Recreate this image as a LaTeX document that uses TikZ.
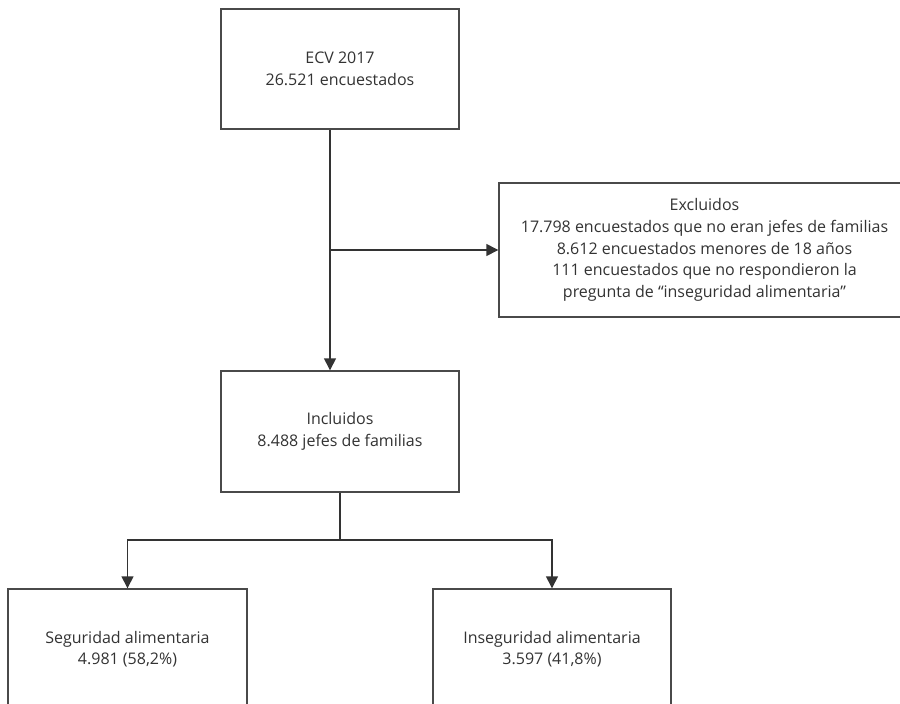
\documentclass[tikz,border=0pt]{standalone}
\usepackage{fontspec}
\setmainfont{Open Sans}
\usetikzlibrary{arrows.meta}
\definecolor{linec}{HTML}{333333}
\definecolor{boxc}{HTML}{4A4A4A}
\definecolor{textc}{HTML}{333333}
\begin{document}
\begin{tikzpicture}[x=1pt,y=-1pt,
  box/.style={draw=boxc, line width=1.4pt, rectangle, align=center, text=textc,
    font=\fontsize{16}{21.6}\selectfont, inner sep=0pt},
  conn/.style={draw=linec, line width=1.4pt},
  arr/.style={conn, -{Triangle[length=12pt,width=12pt]}}]
\useasboundingbox (0,0) rectangle (900,704);
\clip (0,0) rectangle (900,704);
\fill[white] (0,0) rectangle (900,704);
\node[box, minimum width=238pt, minimum height=120pt] (ecv) at (340,69) {ECV 2017\\26.521 encuestados};
\node[box, minimum width=420pt, minimum height=134pt] (exc) at (709,250) {};
\node[align=center, text=textc, font=\fontsize{16}{21.6}\selectfont, inner sep=0pt] (exct) at (704.5,250) {Excluidos\\17.798 encuestados que no eran jefes de familias\\8.612 encuestados menores de 18 años\\111 encuestados que no respondieron la\\pregunta de “inseguridad alimentaria”};
\node[box, minimum width=238pt, minimum height=121pt] (inc) at (340,431.5) {Incluidos\\8.488 jefes de familias};
\node[box, minimum width=239pt, minimum height=120pt] (seg) at (127.5,649) {Seguridad alimentaria\\4.981 (58,2\%)};
\node[box, minimum width=238pt, minimum height=120pt] (ins) at (552,649) {Inseguridad alimentaria\\3.597 (41,8\%)};
\coordinate (top) at (330,129);
\coordinate (mid) at (330,250);
\coordinate (br) at (340,540);
\draw[arr] (ecv.south -| top) -- (inc.north -| top);
\draw[arr] (mid) -- (exc.west |- mid);
\draw[conn] (inc.south) -- (br);
\draw[arr] (br) -| (seg.north);
\draw[arr] (br) -| (ins.north);
\end{tikzpicture}
\end{document}
